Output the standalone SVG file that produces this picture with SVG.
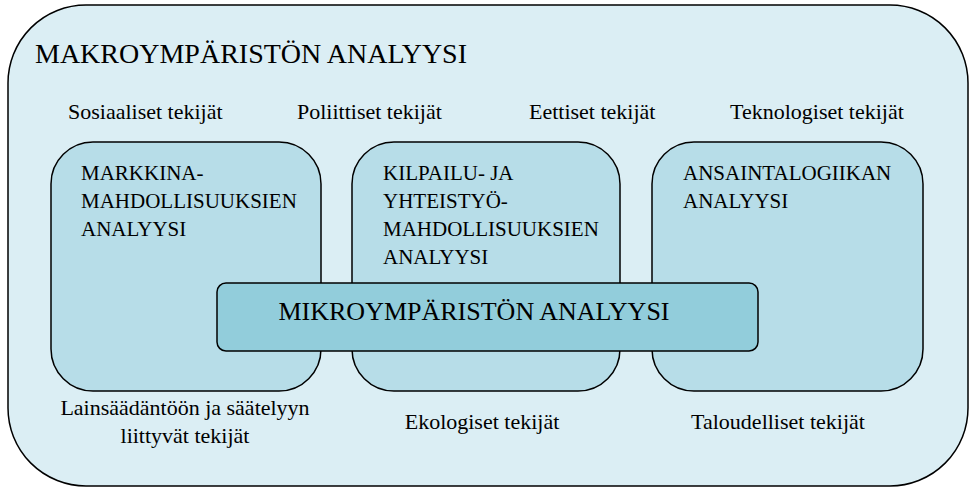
<svg xmlns="http://www.w3.org/2000/svg" width="975" height="490" viewBox="0 0 975 490">
  <style>
    .box { stroke: #000; stroke-width: 1.5; }
    .outer { fill: #DBEEF4; }
    .inner { fill: #B7DDE8; }
    .micro { fill: #92CDDB; }
    text { font-family: "Liberation Serif", "Times New Roman", serif; fill: #000; }
    .title { font-size: 28px; }
    .factor { font-size: 22px; }
    .label { font-size: 21px; }
    .micro-label { font-size: 26px; }
  </style>

  <!-- Macro environment frame -->
  <g id="macro">
    <rect class="box outer" x="8" y="5" width="960" height="481" rx="78" ry="78"/>
    <text class="title" x="35" y="63">MAKROYMPÄRISTÖN ANALYYSI</text>
  </g>

  <!-- External factors -->
  <g id="factors">
    <text class="factor" x="68" y="119">Sosiaaliset tekijät</text>
    <text class="factor" x="297" y="119">Poliittiset tekijät</text>
    <text class="factor" x="529" y="119">Eettiset tekijät</text>
    <text class="factor" x="730" y="119">Teknologiset tekijät</text>
    <text class="factor" x="185" y="415" text-anchor="middle">Lainsäädäntöön ja säätelyyn</text>
    <text class="factor" x="185" y="443" text-anchor="middle">liittyvät tekijät</text>
    <text class="factor" x="482" y="429" text-anchor="middle">Ekologiset tekijät</text>
    <text class="factor" x="778" y="429" text-anchor="middle">Taloudelliset tekijät</text>
  </g>

  <!-- Analysis areas -->
  <g id="market">
    <rect class="box inner" x="51" y="142" width="270" height="249" rx="42" ry="42"/>
    <text class="label" x="81" y="180">MARKKINA-</text>
    <text class="label" x="81" y="208">MAHDOLLISUUKSIEN</text>
    <text class="label" x="81" y="236">ANALYYSI</text>
  </g>
  <g id="competition">
    <rect class="box inner" x="352" y="142" width="268" height="249" rx="42" ry="42"/>
    <text class="label" x="383" y="180">KILPAILU- JA</text>
    <text class="label" x="383" y="208">YHTEISTYÖ-</text>
    <text class="label" x="383" y="236">MAHDOLLISUUKSIEN</text>
    <text class="label" x="383" y="264">ANALYYSI</text>
  </g>
  <g id="revenue">
    <rect class="box inner" x="652" y="142" width="271" height="249" rx="42" ry="42"/>
    <text class="label" x="683" y="180">ANSAINTALOGIIKAN</text>
    <text class="label" x="683" y="208">ANALYYSI</text>
  </g>

  <!-- Micro environment band -->
  <g id="micro">
    <rect class="box micro" x="217" y="283" width="541" height="68" rx="9" ry="9"/>
    <text class="micro-label" x="474" y="320" text-anchor="middle">MIKROYMPÄRISTÖN ANALYYSI</text>
  </g>

  <g id="connectors"/>
</svg>
